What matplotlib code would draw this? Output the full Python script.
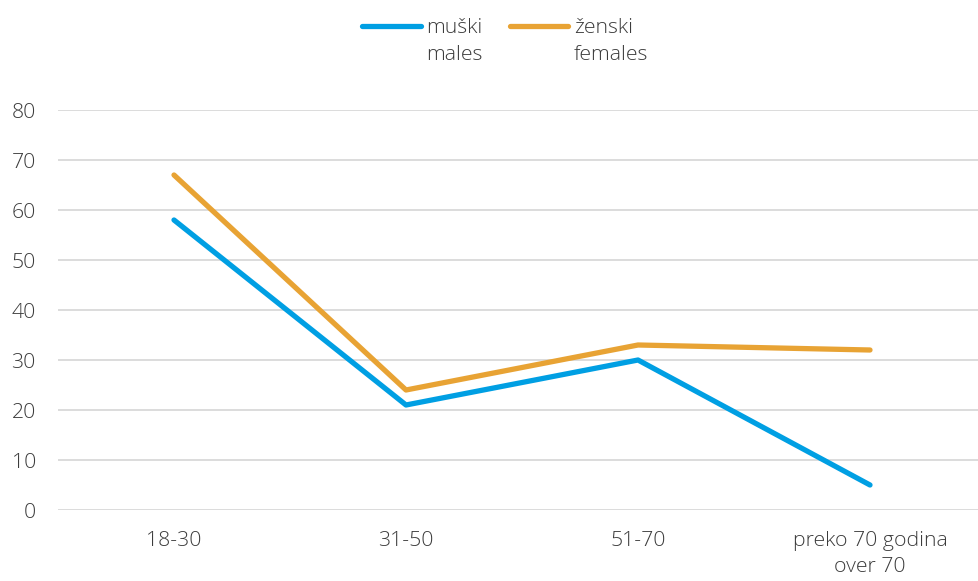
import matplotlib
matplotlib.use("Agg")
import matplotlib.pyplot as plt
from matplotlib.legend_handler import HandlerLine2D

categories = ["18-30", "31-50", "51-70", "preko 70 godina\nover 70"]
males = [58, 21, 30, 5]
females = [67, 24, 33, 32]
series_labels = ["muški\nmales", "ženski\nfemales"]
yticks = [0, 10, 20, 30, 40, 50, 60, 70, 80]

plt.rcParams['font.family'] = ['Open Sans', 'DejaVu Sans']
plt.rcParams['font.weight'] = 'light'
text_color = "#3c3c3c"
fs = 15.3


class TopLineHandler(HandlerLine2D):
    """Align legend line with the first text line."""
    def __init__(self, shift, **kw):
        super().__init__(**kw)
        self.shift = shift

    def create_artists(self, legend, orig_handle, xdescent, ydescent, width, height, fontsize, trans):
        arts = super().create_artists(legend, orig_handle, xdescent, ydescent, width, height, fontsize, trans)
        for a in arts:
            try:
                a.set_ydata([y + self.shift for y in a.get_ydata()])
            except Exception:
                pass
        return arts


fig = plt.figure(figsize=(9.79, 5.81), dpi=100)
ax = fig.add_axes([58/979, 71/581, 928/979, 400/581])

x = list(range(len(categories)))
l1, = ax.plot(x, males, color="#009fe3", lw=3.8, solid_capstyle="round", label=series_labels[0], zorder=3)
l2, = ax.plot(x, females, color="#e8a334", lw=3.8, solid_capstyle="round", label=series_labels[1], zorder=3)

ax.set_xlim(-0.5, 3.5)
ax.set_ylim(0, 80)
ax.set_yticks(yticks)
ax.set_xticks(x)
ax.set_xticklabels(categories, fontsize=fs, color=text_color, linespacing=1.4)
ax.tick_params(axis="y", labelsize=fs, labelcolor=text_color, length=0, pad=16)
ax.tick_params(axis="x", length=0, pad=15)
ax.grid(axis="y", color="#d9d9d9", lw=1.3)
ax.set_axisbelow(True)
for s in ax.spines.values():
    s.set_visible(False)

h = TopLineHandler(11.5)
leg = ax.legend(handles=[l1, l2], loc="upper center",
                bbox_to_anchor=(0.516 * 979 / 928 - 58 / 928, 581 / 400 - 71 / 400),
                bbox_transform=ax.transAxes, ncol=2, frameon=False, fontsize=fs,
                handlelength=2.75, handletextpad=0.25, columnspacing=1.3, borderaxespad=0.45,
                handler_map={l1: h, l2: h})
for t in leg.get_texts():
    t.set_color(text_color)
    t.set_linespacing(1.45)

fig.savefig("out.png", dpi=100)
